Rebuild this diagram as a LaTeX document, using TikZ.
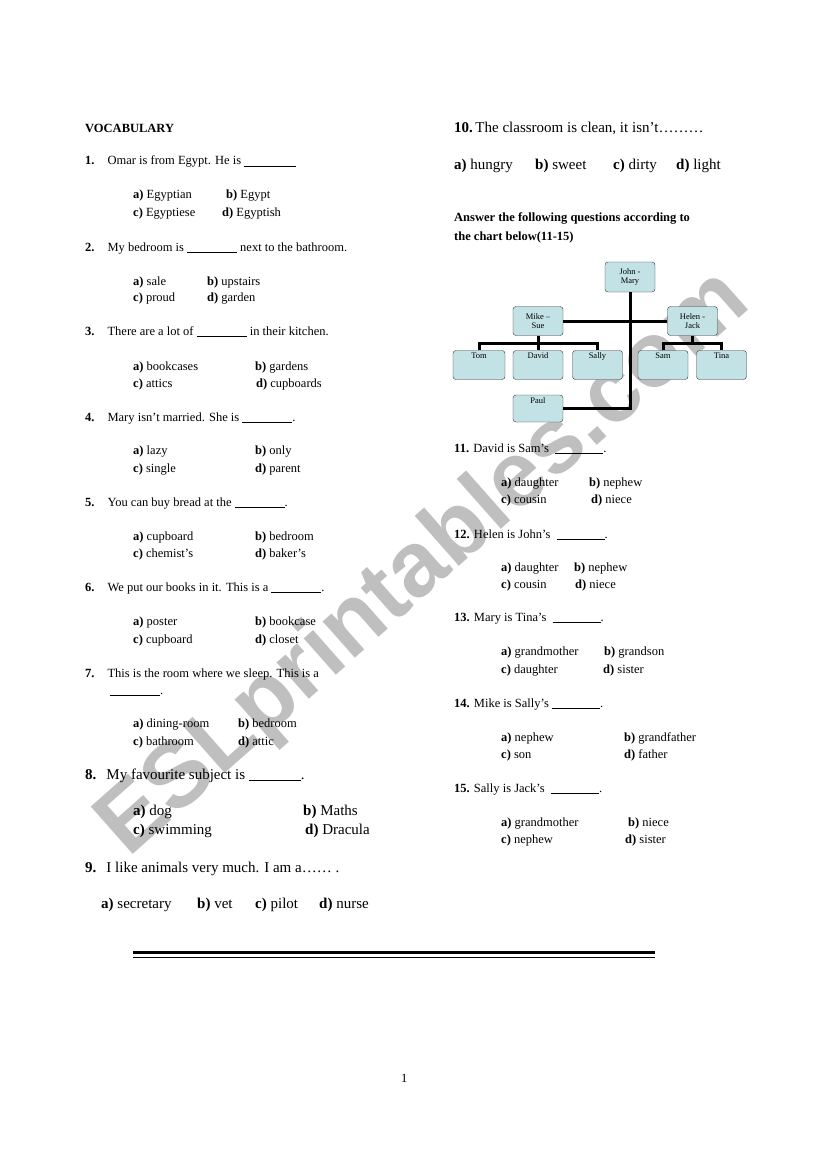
\documentclass[tikz,border=0pt]{standalone}
\usepackage{fontspec}
\setmainfont{Liberation Serif}
\setsansfont{Liberation Sans}
\usepackage{tikz}
\definecolor{boxblue}{HTML}{C3E2E6}
\newcommand{\blank}[1]{\rule[-1.5pt]{#1pt}{0.7pt}}
\tikzset{
  txt/.style={anchor=base west, inner sep=0pt, font=\fontsize{12.5}{14}\selectfont},
  big/.style={anchor=base west, inner sep=0pt, font=\fontsize{15}{17}\selectfont},
  person/.style={draw=black!80, fill=boxblue, rounded corners=3pt, minimum width=50pt,
    minimum height=29pt, inner sep=1pt, font=\fontsize{8.5}{9.5}\selectfont, align=center},
  tie/.style={line width=3pt}
}
\begin{document}
\begin{tikzpicture}[x=1pt,y=-1pt]
    \useasboundingbox (0,0) rectangle (821,1169);

    % watermark
    \node[rotate=41.5, text=black!25, font=\sffamily\bfseries\fontsize{92}{92}\selectfont] (wm) at (425,565) {ESLprintables.com};

    \node[txt, font=\bfseries\fontsize{12.5}{14}\selectfont] (voc) at (85,133) {VOCABULARY};

    % questions 1-7
    \node[txt] (q1) at (85,165) {\textbf{1.}\hspace{13pt}Omar is from Egypt. He is \blank{52}};
    \node[txt] (q1a) at (133,199) {\textbf{a)} Egyptian};
    \node[txt] (q1b) at (226,199) {\textbf{b)} Egypt};
    \node[txt] (q1c) at (133,216) {\textbf{c)} Egyptiese};
    \node[txt] (q1d) at (222,216) {\textbf{d)} Egyptish};

    \node[txt] (q2) at (85,251) {\textbf{2.}\hspace{13pt}My bedroom is \blank{50} next to the bathroom.};
    \node[txt] (q2a) at (133,285) {\textbf{a)} sale};
    \node[txt] (q2b) at (207,285) {\textbf{b)} upstairs};
    \node[txt] (q2c) at (133,301) {\textbf{c)} proud};
    \node[txt] (q2d) at (207,301) {\textbf{d)} garden};

    \node[txt] (q3) at (85,335) {\textbf{3.}\hspace{13pt}There are a lot of \blank{50} in their kitchen.};
    \node[txt] (q3a) at (133,370) {\textbf{a)} bookcases};
    \node[txt] (q3b) at (255,370) {\textbf{b)} gardens};
    \node[txt] (q3c) at (133,387) {\textbf{c)} attics};
    \node[txt] (q3d) at (256,387) {\textbf{d)} cupboards};

    \node[txt] (q4) at (85,421) {\textbf{4.}\hspace{13pt}Mary isn't married. She is \blank{50}.};
    \node[txt] (q4a) at (133,454) {\textbf{a)} lazy};
    \node[txt] (q4b) at (255,454) {\textbf{b)} only};
    \node[txt] (q4c) at (133,472) {\textbf{c)} single};
    \node[txt] (q4d) at (255,472) {\textbf{d)} parent};

    \node[txt] (q5) at (85,506) {\textbf{5.}\hspace{13pt}You can buy bread at the \blank{50}.};
    \node[txt] (q5a) at (133,540) {\textbf{a)} cupboard};
    \node[txt] (q5b) at (255,540) {\textbf{b)} bedroom};
    \node[txt] (q5c) at (133,557) {\textbf{c)} chemist's};
    \node[txt] (q5d) at (255,557) {\textbf{d)} baker's};

    \node[txt] (q6) at (85,591) {\textbf{6.}\hspace{13pt}We put our books in it. This is a \blank{50}.};
    \node[txt] (q6a) at (133,625) {\textbf{a)} poster};
    \node[txt] (q6b) at (255,625) {\textbf{b)} bookcase};
    \node[txt] (q6c) at (133,643) {\textbf{c)} cupboard};
    \node[txt] (q6d) at (255,643) {\textbf{d)} closet};

    \node[txt] (q7) at (85,677) {\textbf{7.}\hspace{13pt}This is the room where we sleep. This is a};
    \node[txt] (q7x) at (110,694) {\blank{50}.};
    \node[txt] (q7a) at (133,727) {\textbf{a)} dining-room};
    \node[txt] (q7b) at (238,727) {\textbf{b)} bedroom};
    \node[txt] (q7c) at (133,745) {\textbf{c)} bathroom};
    \node[txt] (q7d) at (238,745) {\textbf{d)} attic};

    % questions 8-9
    \node[big] (q8) at (85,779) {\textbf{8.}\hspace{10pt}My favourite subject is \blank{52}.};
    \node[big] (q8a) at (133,815) {\textbf{a)} dog};
    \node[big] (q8b) at (303,815) {\textbf{b)} Maths};
    \node[big] (q8c) at (133,834) {\textbf{c)} swimming};
    \node[big] (q8d) at (305,834) {\textbf{d)} Dracula};

    \node[big] (q9) at (85,872) {\textbf{9.}\hspace{10pt}I like animals very much. I am a\dots\dots\ .};
    \node[big] (q9a) at (101,908) {\textbf{a)} secretary};
    \node[big] (q9b) at (197,908) {\textbf{b)} vet};
    \node[big] (q9c) at (255,908) {\textbf{c)} pilot};
    \node[big] (q9d) at (319,908) {\textbf{d)} nurse};

    % right column
    \node[big] (q10) at (454,133) {\textbf{10.}\,The classroom is clean, it isn't\dots\dots\dots};
    \node[big] (q10a) at (454,170) {\textbf{a)} hungry};
    \node[big] (q10b) at (535,170) {\textbf{b)} sweet};
    \node[big] (q10c) at (613,170) {\textbf{c)} dirty};
    \node[big] (q10d) at (676,170) {\textbf{d)} light};

    \node[txt, font=\bfseries\fontsize{12.5}{14}\selectfont] (ask1) at (454,222) {Answer the following questions according to};
    \node[txt, font=\bfseries\fontsize{12.5}{14}\selectfont] (ask2) at (454,240) {the chart below(11-15)};

    % family chart
    \node[person, minimum height=30pt] (jm) at (630,277) {John -\\Mary};
    \node[person] (ms) at (538,321) {Mike --\\Sue};
    \node[person] (hj) at (692.5,321) {Helen -\\Jack};
    \node[person, minimum width=52pt] (tom) at (479,365) {Tom\\[9pt]};
    \node[person] (dav) at (538,365) {David\\[9pt]};
    \node[person] (sal) at (597.5,365) {Sally\\[9pt]};
    \node[person] (sam) at (663,365) {Sam\\[9pt]};
    \node[person] (tin) at (721.5,365) {Tina\\[9pt]};
    \node[person, minimum height=27pt] (pau) at (538,408.5) {Paul\\[7pt]};
    \coordinate (msdrop) at (538,343);
    \coordinate (hjdrop) at (692.5,343);

    \draw[tie] (ms.east) -- (hj.west);
    \draw[tie] (jm.south) |- (pau.east);
    \draw[tie] (ms.south) -- (msdrop);
    \draw[tie] (tom.north) |- (msdrop) -| (sal.north);
    \draw[tie] (msdrop) -- (dav.north);
    \draw[tie] (hj.south) -- (hjdrop);
    \draw[tie] (sam.north) |- (hjdrop) -| (tin.north);

    % questions 11-15
    \node[txt] (q11) at (454,452) {\textbf{11.} David is Sam's \ \blank{48}.};
    \node[txt] (q11a) at (501,486) {\textbf{a)} daughter};
    \node[txt] (q11b) at (589,486) {\textbf{b)} nephew};
    \node[txt] (q11c) at (501,503) {\textbf{c)} cousin};
    \node[txt] (q11d) at (591,503) {\textbf{d)} niece};

    \node[txt] (q12) at (454,538) {\textbf{12.} Helen is John's \ \blank{48}.};
    \node[txt] (q12a) at (501,571) {\textbf{a)} daughter};
    \node[txt] (q12b) at (574,571) {\textbf{b)} nephew};
    \node[txt] (q12c) at (501,588) {\textbf{c)} cousin};
    \node[txt] (q12d) at (575,588) {\textbf{d)} niece};

    \node[txt] (q13) at (454,621) {\textbf{13.} Mary is Tina's \ \blank{48}.};
    \node[txt] (q13a) at (501,655) {\textbf{a)} grandmother};
    \node[txt] (q13b) at (604,655) {\textbf{b)} grandson};
    \node[txt] (q13c) at (501,673) {\textbf{c)} daughter};
    \node[txt] (q13d) at (603,673) {\textbf{d)} sister};

    \node[txt] (q14) at (454,707) {\textbf{14.} Mike is Sally's \blank{48}.};
    \node[txt] (q14a) at (501,741) {\textbf{a)} nephew};
    \node[txt] (q14b) at (624,741) {\textbf{b)} grandfather};
    \node[txt] (q14c) at (501,758) {\textbf{c)} son};
    \node[txt] (q14d) at (624,758) {\textbf{d)} father};

    \node[txt] (q15) at (454,792) {\textbf{15.} Sally is Jack's \ \blank{48}.};
    \node[txt] (q15a) at (501,826) {\textbf{a)} grandmother};
    \node[txt] (q15b) at (628,826) {\textbf{b)} niece};
    \node[txt] (q15c) at (501,843) {\textbf{c)} nephew};
    \node[txt] (q15d) at (625,843) {\textbf{d)} sister};

    % footer rule and page number
    \draw[line width=3pt] (133,952) -- (655,952);
    \draw[line width=0.8pt] (133,957) -- (655,957);
    \node[txt] (pg) at (401,1082) {1};
\end{tikzpicture}
\end{document}
